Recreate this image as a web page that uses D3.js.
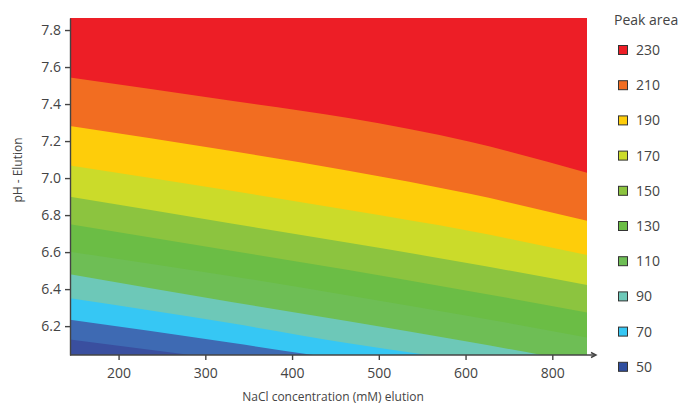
<!DOCTYPE html>
<html>
<head>
<meta charset="utf-8">
<script src="https://cdn.jsdelivr.net/npm/d3@7"></script>
<style>
  body { margin: 0; background: #fff; }
  svg text { font-family: 'Open Sans', sans-serif; fill: #444; }
  .ejes path, .ejes line { stroke: #444; stroke-width: 1.4; }
</style>
</head>
<body>
<div id="graf"></div>
<script>
// datos
const nacl = [144, 330, 465, 605, 740]

// limite (pH) entre bandas, de arriba hacia abajo
const limites = [
  { nivel: 230, ph: [7.544, 7.418, 7.324, 7.196, 7.029] },
  { nivel: 210, ph: [7.281, 7.146, 7.040, 6.915, 6.769] },
  { nivel: 190, ph: [7.068, 6.931, 6.827, 6.714, 6.584] },
  { nivel: 170, ph: [6.899, 6.755, 6.650, 6.539, 6.422] },
  { nivel: 150, ph: [6.751, 6.607, 6.503, 6.389, 6.274] },
  { nivel: 130, ph: [6.602, 6.470, 6.366, 6.254, 6.139] },
  { nivel: 110, ph: [6.480, 6.331, 6.227, 6.114, 5.999] },
  { nivel: 90, ph: [6.350, 6.215, 6.107, 6.011, 5.914] },
  { nivel: 70, ph: [6.234, 6.110, 6.016, 5.925, 5.835] },
  { nivel: 50, ph: [6.128, 6.015, 5.930, 5.843, 5.757] },
]

const colorArriba = '#ed1e26'
const coloresBanda = ['#f26d21', '#fecd0a', '#cbdb2a', '#8cc43f', '#6bbd45',
  '#6ebe55', '#6dc8b8', '#36c7f4', '#3e6ab3', '#3a4f9f']

const leyendaValores = [230, 210, 190, 170, 150, 130, 110, 90, 70, 50]
const leyendaColores = ['#ed1e26', '#f26d21', '#fecd0a', '#cbdb2a', '#8cc43f',
  '#6bbd45', '#6ebe55', '#6dc8b8', '#36c7f4', '#2f4e9f']

const xTicks = [200, 300, 400, 500, 600, 700]
const xTickLabels = ['200', '300', '400', '500', '600', '800']
const yTicks = [6.2, 6.4, 6.6, 6.8, 7.0, 7.2, 7.4, 7.6, 7.8]

const anchoTotal = 685
const altoTotal = 405
const margin = { top: 18, bottom: 50, left: 70, right: 98 }
const ancho = anchoTotal - margin.left - margin.right
const alto = altoTotal - margin.top - margin.bottom

const svg = d3.select('#graf')
  .append('svg')
  .attr('width', anchoTotal)
  .attr('height', altoTotal)

const g = svg.append('g')
  .attr('transform', `translate(${margin.left}, ${margin.top})`)

// !ESCALADORES
const x = d3.scaleLinear().domain([144, 740]).range([0, ancho])
const y = d3.scaleLinear().domain([6.044, 7.865]).range([alto, 0])

g.append('clipPath').attr('id', 'recorte')
  .append('rect')
  .attr('width', ancho)
  .attr('height', alto)

const zona = g.append('g').attr('clip-path', 'url(#recorte)')

zona.append('rect')
  .attr('width', ancho)
  .attr('height', alto)
  .attr('fill', colorArriba)

const area = d3.area()
  .x((d) => x(d[0]))
  .y0(alto + 50)
  .y1((d) => y(d[1]))
  .curve(d3.curveMonotoneX)

limites.forEach((l, i) => {
  zona.append('path')
    .datum(nacl.map((n, j) => [n, l.ph[j]]))
    .attr('d', area)
    .attr('fill', coloresBanda[i])
})

// !EJES
const ejeX = g.append('g')
  .attr('class', 'ejes')
  .attr('transform', `translate(0, ${alto})`)
  .call(d3.axisBottom(x)
    .tickValues(xTicks)
    .tickSize(5)
    .tickSizeOuter(0)
    .tickFormat((d, i) => xTickLabels[i]))
ejeX.select('.domain').attr('d', `M0,0H${ancho + 8}`)
ejeX.selectAll('text').attr('font-size', 14).attr('dy', '1.1em')

ejeX.append('path')
  .attr('d', `M${ancho + 4},-2.5L${ancho + 9},0L${ancho + 4},2.5`)
  .attr('fill', 'none')
  .attr('stroke', '#444')
  .attr('stroke-width', 1)

const ejeY = g.append('g')
  .attr('class', 'ejes')
  .call(d3.axisLeft(y)
    .tickValues(yTicks)
    .tickSize(5)
    .tickSizeOuter(0)
    .tickFormat(d3.format('.1f')))
ejeY.selectAll('text').attr('font-size', 14).attr('x', -9)

svg.append('text')
  .attr('x', 333)
  .attr('y', 401)
  .attr('text-anchor', 'middle')
  .attr('font-size', 12)
  .text('NaCl concentration (mM) elution')

svg.append('text')
  .attr('transform', 'translate(22, 170) rotate(-90)')
  .attr('text-anchor', 'middle')
  .attr('font-size', 12)
  .text('pH - Elution')

// !LEYENDA
const leyenda = svg.append('g').attr('transform', 'translate(614, 0)')
leyenda.append('text')
  .attr('x', 0)
  .attr('y', 25)
  .attr('font-size', 14)
  .text('Peak area')

const items = leyenda.selectAll('.item')
  .data(leyendaValores)
  .enter()
  .append('g')
  .attr('transform', (d, i) => `translate(0, ${50 + i * 35.2})`)

items.append('rect')
  .attr('x', 4.5)
  .attr('y', -4.5)
  .attr('width', 9)
  .attr('height', 9)
  .attr('fill', (d, i) => leyendaColores[i])
  .attr('stroke', '#333')
  .attr('stroke-width', 1)

items.append('text')
  .attr('x', 22)
  .attr('dy', '0.35em')
  .attr('font-size', 14)
  .text((d) => d)
</script>
</body>
</html>
